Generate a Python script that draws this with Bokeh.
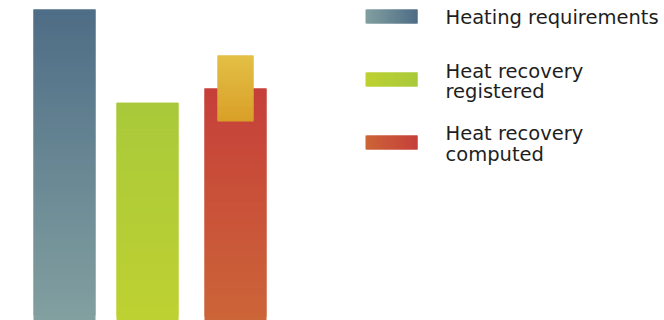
from bokeh.plotting import figure
from bokeh.layouts import row
from bokeh.models import Range1d, Label
from bokeh.embed import file_html
from bokeh.resources import INLINE

# ---- data ----
series = ["Heating requirements", "Heat recovery registered", "Heat recovery computed"]
values = [100.0, 70.0, 74.6]
computed_low = 64.0
computed_high = 85.2
legend_lines = [["Heating requirements"], ["Heat recovery", "registered"], ["Heat recovery", "computed"]]

# ---- style ----
grad_top = ["#4e6d86", "#a9c93a", "#c63f3a"]
grad_bottom = ["#82a0a0", "#bed132", "#cc6538"]
range_top = "#e3c045"
range_bottom = "#d99f28"
centers = [64, 147, 235]
bar_w = 62
range_w = 36
N = 60


def hex2rgb(h):
    h = h.lstrip("#")
    return tuple(int(h[i:i + 2], 16) for i in (0, 2, 4))


def mix(a, b, t):
    ra, rb = hex2rgb(a), hex2rgb(b)
    return "#%02x%02x%02x" % tuple(round(ra[k] + (rb[k] - ra[k]) * t) for k in range(3))


ymax = 100.0 * 320 / 311

p = figure(width=300, height=320, x_range=Range1d(0, 300), y_range=Range1d(0, ymax),
           output_backend="svg", toolbar_location=None, min_border=0)
p.xaxis.visible = False
p.yaxis.visible = False
p.xgrid.visible = False
p.ygrid.visible = False
p.outline_line_color = None
p.background_fill_color = "white"


def vertical_gradient(lo, hi, cx, w, c_lo, c_hi):
    L, R, B, T, C = [], [], [], [], []
    for k in range(N):
        L.append(cx - w / 2)
        R.append(cx + w / 2)
        B.append(lo + (hi - lo) * k / N)
        T.append(lo + (hi - lo) * min(k + 2, N) / N)
        C.append(mix(c_lo, c_hi, (k + 0.5) / N))
    p.quad(left=L, right=R, bottom=B, top=T, fill_color=C, line_color=None)


for i, v in enumerate(values):
    vertical_gradient(0, v, centers[i], bar_w, grad_bottom[i], grad_top[i])

vertical_gradient(computed_low, computed_high, centers[2], range_w, range_bottom, range_top)

# ---- legend figure ----
lg = figure(width=364, height=320, x_range=Range1d(300, 664), y_range=Range1d(320, 0),
            output_backend="svg", toolbar_location=None, min_border=0)
lg.xaxis.visible = False
lg.yaxis.visible = False
lg.xgrid.visible = False
lg.ygrid.visible = False
lg.outline_line_color = None

sw_tops = [9, 72, 135]
SL, SR, SB, ST, SC = [], [], [], [], []
M = 40
for i in range(3):
    for k in range(M):
        SL.append(365 + 52 * k / M)
        SR.append(365 + 52 * min(k + 2, M) / M)
        SB.append(sw_tops[i] + 14)
        ST.append(sw_tops[i])
        SC.append(mix(grad_bottom[i], grad_top[i], (k + 0.5) / M))
lg.quad(left=SL, right=SR, bottom=SB, top=ST, fill_color=SC, line_color=None)

baselines = [17, 70.5, 133]
for i, lines in enumerate(legend_lines):
    for j, txt in enumerate(lines):
        lg.add_layout(Label(x=445, y=baselines[i] + 20.5 * j, text=txt,
                            text_font="DejaVu Sans", text_font_size="19.5px",
                            text_color="#1e1e1e", text_baseline="alphabetic"))

layout = row(p, lg, spacing=0)
open("out.html", "w").write(file_html(layout, INLINE))
